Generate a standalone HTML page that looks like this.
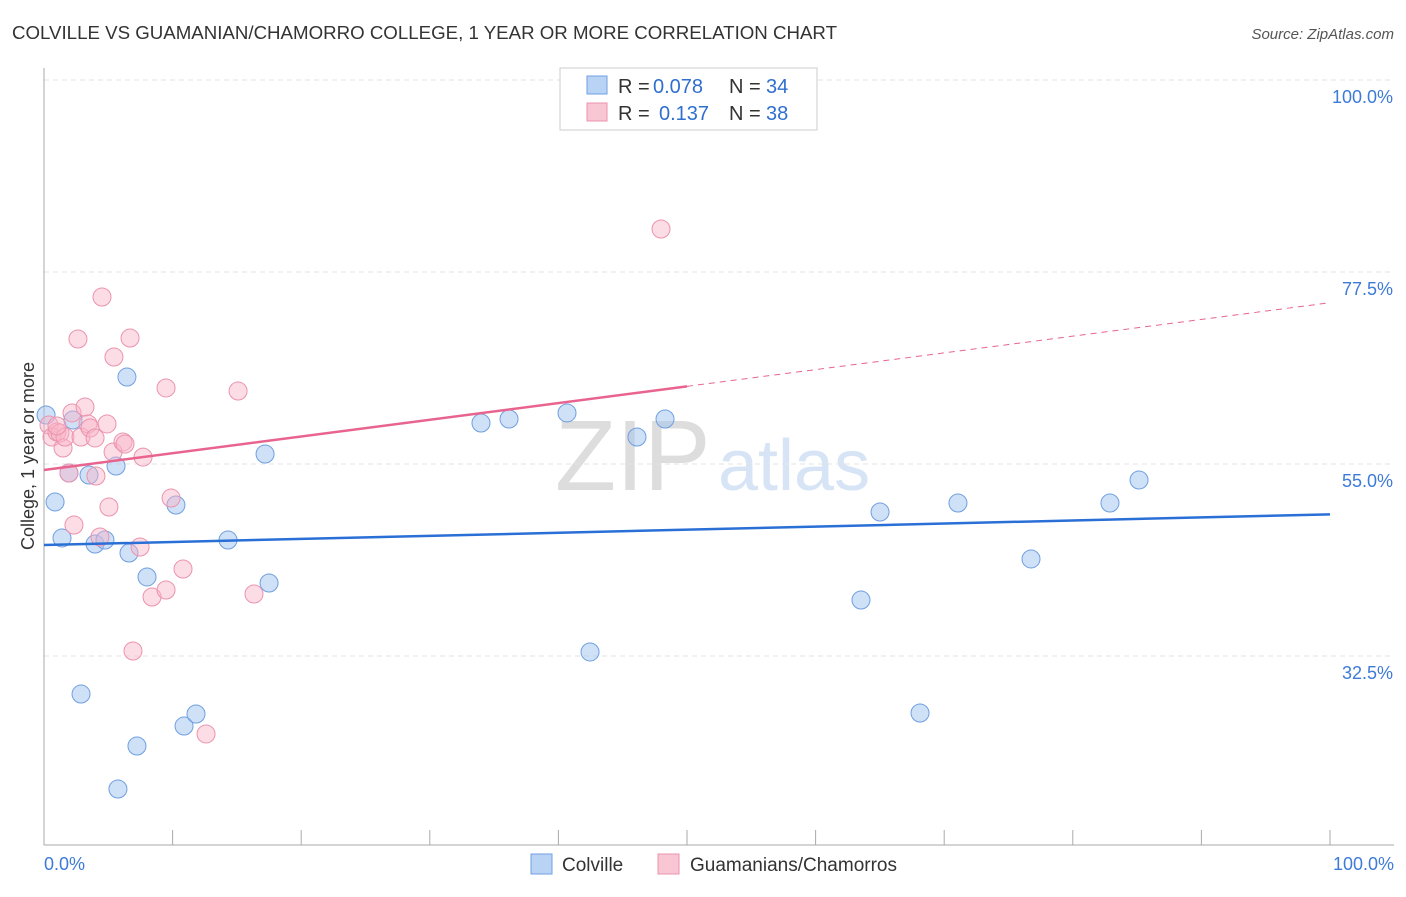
<!DOCTYPE html>
<html><head><meta charset="utf-8"><style>
body{margin:0;background:#fff;font-family:"Liberation Sans",sans-serif}
svg text{font-family:"Liberation Sans",sans-serif}
</style></head><body>
<svg id="c" width="1406" height="892">
<text x="12" y="39" font-size="18" fill="#333" textLength="825" lengthAdjust="spacingAndGlyphs">COLVILLE VS GUAMANIAN/CHAMORRO COLLEGE, 1 YEAR OR MORE CORRELATION CHART</text>
<text x="1394" y="39" font-size="15" fill="#555" text-anchor="end" font-style="italic">Source: ZipAtlas.com</text>
<text x="34" y="456" font-size="18" fill="#333" text-anchor="middle" transform="rotate(-90 34 456)">College, 1 year or more</text>
<text x="555" y="490" font-size="100" fill="#ddd" font-family="Liberation Serif">ZIP</text>
<text x="718" y="490" font-size="72" fill="#d6e4f5">atlas</text>
<g id="grid"></g><g id="marks"></g>
<g>
<rect x="560" y="68" width="257" height="62" fill="#fff" stroke="#ccc"/>
<rect x="587" y="76" width="20" height="18" fill="#b9d3f5" stroke="#6f9fe0"/>
<rect x="587" y="103" width="20" height="18" fill="#f9c6d4" stroke="#eb93ad"/>
<text x="618" y="93" font-size="20" fill="#333">R =</text>
<text x="653" y="93" font-size="20" fill="#2f6fd0">0.078</text>
<text x="729" y="93" font-size="20" fill="#333">N =</text>
<text x="766" y="93" font-size="20" fill="#2f6fd0">34</text>
<text x="618" y="120" font-size="20" fill="#333">R =</text>
<text x="659" y="120" font-size="20" fill="#2f6fd0">0.137</text>
<text x="729" y="120" font-size="20" fill="#333">N =</text>
<text x="766" y="120" font-size="20" fill="#2f6fd0">38</text>
</g>
<g>
<rect x="531" y="854" width="21" height="20" fill="#b9d3f5" stroke="#6f9fe0"/>
<text x="562" y="871" font-size="19" fill="#333">Colville</text>
<rect x="658" y="854" width="21" height="20" fill="#f9c6d4" stroke="#eb93ad"/>
<text x="690" y="871" font-size="19" fill="#333">Guamanians/Chamorros</text>
</g>
</svg>
<script>
const yTicks=[100,77.5,55,32.5];
const yTickLabels=["100.0%","77.5%","55.0%","32.5%"];
const xTickLabels=["0.0%","100.0%"];
const colvilleX=[0.16,0.86,1.4,2.25,2.88,1.94,3.97,4.74,5.6,5.75,6.45,6.61,7.23,8.01,10.26,10.89,11.82,14.31,17.19,17.5,33.98,36.16,40.67,42.46,46.11,48.29,63.53,65.01,68.12,71.07,76.75,82.89,85.15,3.5];
const colvilleY=[60.74,50.55,46.33,60.16,28.04,53.94,45.62,46.09,54.76,16.91,65.19,44.57,21.95,41.76,50.19,24.29,25.7,46.09,56.17,41.05,59.8,60.27,60.98,32.97,58.16,60.27,39.06,49.37,25.82,50.43,43.87,50.43,53.12,53.71];
const guamX=[0.39,0.62,1.01,1.24,1.48,1.63,2.18,2.33,2.64,3.19,2.88,3.42,3.58,3.97,4.04,4.51,4.9,5.05,5.37,5.44,6.14,6.3,6.69,6.92,7.47,7.7,8.4,9.49,9.49,9.88,10.81,12.6,15.09,16.33,47.98,1.01,1.94,4.35];
const guamY=[59.57,58.16,58.75,58.63,56.87,58.16,60.98,47.85,69.65,61.68,58.16,59.69,59.22,58.05,53.59,74.57,59.69,49.96,56.4,67.54,57.58,57.34,69.76,33.08,45.27,55.81,39.41,63.91,40.23,51.01,42.69,23.36,63.55,39.76,82.54,59.45,53.94,46.44];
const colvilleTrend=[45.5,49.1];
const guamTrend=[54.3,73.9];
const NS="http://www.w3.org/2000/svg";
const xs=v=>44+v*12.86, ys=v=>80+(100-v)*8.533;
function mk(t,a,p){const e=document.createElementNS(NS,t);for(const k in a)e.setAttribute(k,a[k]);p.appendChild(e);return e;}
const g=document.getElementById('grid'), m=document.getElementById('marks');
yTicks.forEach((v,i)=>{
 const l=mk('line',{x1:44,x2:1394,y1:ys(v),y2:ys(v),stroke:'#e3e3e3','stroke-dasharray':'5,4'},g);
 
 
 const t=mk('text',{x:1393,y:ys(v)+23,'font-size':18,fill:'#3d7bd8','text-anchor':'end'},g);
 t.textContent=yTickLabels[i];
 
 
});
const ax=mk('line',{x1:44,x2:44,y1:68,y2:845,stroke:'#aaa'},g);


const bx=mk('line',{x1:44,x2:1394,y1:845,y2:845,stroke:'#aaa'},g);


for(let i=0;i<=10;i++){const t=mk('line',{x1:xs(i*10),x2:xs(i*10),y1:830,y2:845,stroke:'#aaa'},g);
 
 }
[[0,'start',44],[1,'end',1394]].forEach(([i,a,x])=>{const t=mk('text',{x:x,y:870,'font-size':18,fill:'#3d7bd8','text-anchor':a},g);t.textContent=xTickLabels[i];
 
 });
colvilleX.forEach((x,i)=>{const c=mk('circle',{cx:xs(x),cy:ys(colvilleY[i]),r:9,fill:'rgba(160,195,240,0.5)',stroke:'#6f9fe0','stroke-width':1},m);
 
 });
guamX.forEach((x,i)=>{const c=mk('circle',{cx:xs(x),cy:ys(guamY[i]),r:9,fill:'rgba(248,180,200,0.45)',stroke:'#eb93ad','stroke-width':1},m);
 
 });
const bl=mk('line',{x1:xs(0),y1:ys(colvilleTrend[0]),x2:xs(100),y2:ys(colvilleTrend[1]),stroke:'#2a6fd6','stroke-width':2.5},m);


const gy=x=>guamTrend[0]+(guamTrend[1]-guamTrend[0])*x/100;
const pl=mk('line',{x1:xs(0),y1:ys(gy(0)),x2:xs(50),y2:ys(gy(50)),stroke:'#e8648f','stroke-width':2.5},m);


const pd=mk('line',{x1:xs(50),y1:ys(gy(50)),x2:xs(100),y2:ys(gy(100)),stroke:'#e8648f','stroke-width':1,'stroke-dasharray':'6,5'},m);


</script>
</body></html>
